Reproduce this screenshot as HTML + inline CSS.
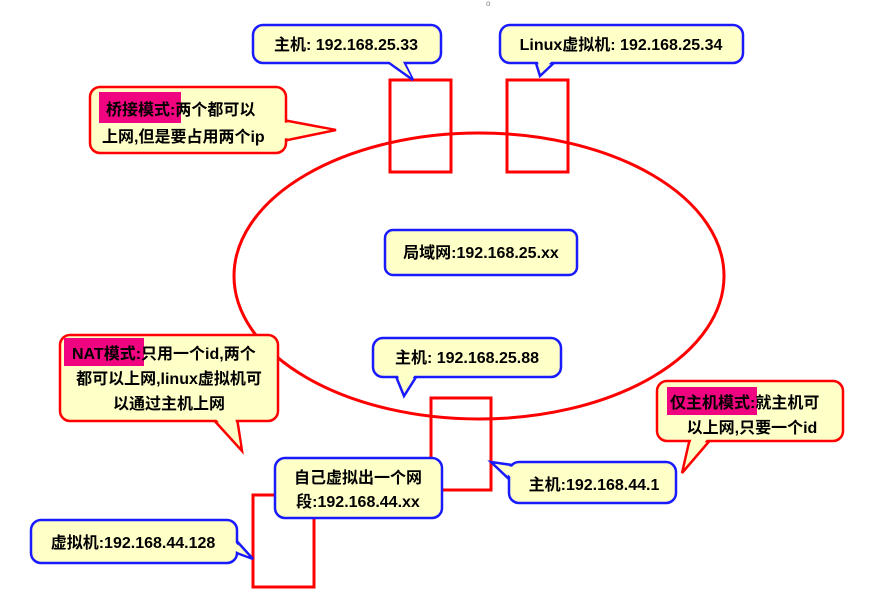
<!DOCTYPE html>
<html><head><meta charset="utf-8"><style>
html,body{margin:0;padding:0;background:#fff;}
svg{display:block;}
text{font-family:"Liberation Sans","Noto Sans CJK SC",sans-serif;font-size:16px;font-weight:bold;fill:#000;}
.b{stroke:#1a1aff;stroke-width:2.5;fill:#ffffc8;}
.r{stroke:#ff0000;stroke-width:2.5;fill:#ffffc8;}
.f{fill:#ffffc8;stroke:none;}
.bx{fill:none;stroke:#ff0000;stroke-width:3;}
.hl{fill:#f0047f;}
</style></head><body>
<svg width="869" height="595" viewBox="0 0 869 595">
<ellipse cx="479" cy="276" rx="245" ry="143" fill="none" stroke="#ff0000" stroke-width="3"/>
<rect class="bx" x="390" y="80" width="61" height="92"/>
<rect class="bx" x="507" y="80" width="61" height="92"/>
<rect class="bx" x="431" y="398" width="60" height="92"/>
<rect class="bx" x="253" y="495" width="61" height="92"/>

<polygon class="b" points="385,60 413,80 403,60"/>
<rect class="b" x="253" y="25" width="188" height="38" rx="10"/>
<polygon class="f" points="387,60 411,77 402,60"/>
<text x="346" y="50" text-anchor="middle">主机: 192.168.25.33</text>

<polygon class="b" points="535,60 540,76 557,60"/>
<rect class="b" x="500" y="25" width="243" height="38" rx="10"/>
<polygon class="f" points="537,59 541,72 554,59"/>
<text x="621" y="50" text-anchor="middle">Linux虚拟机: 192.168.25.34</text>

<polygon class="r" points="283,120 336,130 283,141"/>
<rect class="r" x="90" y="87" width="196" height="66" rx="10"/>
<polygon class="f" points="282,122 330,130 282,139"/>
<rect class="hl" x="99" y="92" width="82" height="31"/>
<text x="106" y="115">桥接模式:两个都可以</text>
<text x="102" y="142">上网,但是要占用两个ip</text>

<rect class="b" x="385" y="230" width="192" height="45" rx="8"/>
<text x="481" y="258" text-anchor="middle">局域网:192.168.25.xx</text>

<polygon class="r" points="212,418 242,451 237,418"/>
<rect class="r" x="60" y="335" width="218" height="86" rx="10"/>
<polygon class="f" points="214,417 240,445 235,417"/>
<rect class="hl" x="64" y="338" width="80" height="28"/>
<text x="72" y="359">NAT模式:只用一个id,两个</text>
<text x="169" y="384" text-anchor="middle">都可以上网,linux虚拟机可</text>
<text x="169" y="409" text-anchor="middle">以通过主机上网</text>

<polygon class="b" points="395,374 404,396 418,374"/>
<rect class="b" x="373" y="338" width="188" height="39" rx="10"/>
<polygon class="f" points="397,373 404,392 416,373"/>
<text x="467" y="363" text-anchor="middle">主机: 192.168.25.88</text>

<polygon class="r" points="690,438 682,473 712,438"/>
<rect class="r" x="657" y="381" width="186" height="60" rx="10"/>
<polygon class="f" points="692,437 685,466 709,437"/>
<rect class="hl" x="667" y="387" width="90" height="28"/>
<text x="670" y="408">仅主机模式:就主机可</text>
<text x="752" y="433" text-anchor="middle">以上网,只要一个id</text>

<polygon class="b" points="512,465 491,462 512,482"/>
<rect class="b" x="509" y="462" width="167" height="41" rx="10"/>
<polygon class="f" points="513,467 496,464 513,479"/>
<text x="594" y="490" text-anchor="middle">主机:192.168.44.1</text>

<rect class="b" x="275" y="458" width="167" height="60" rx="10"/>
<text x="358" y="483" text-anchor="middle">自己虚拟出一个网</text>
<text x="358" y="507" text-anchor="middle">段:192.168.44.xx</text>

<polygon class="b" points="234,538 253,559 234,552"/>
<rect class="b" x="31" y="520" width="206" height="43" rx="10"/>
<polygon class="f" points="233,540 248,556 233,550"/>
<text x="133" y="548" text-anchor="middle">虚拟机:192.168.44.128</text>

<text x="486" y="6" style="font-size:8px;font-weight:normal;fill:#888">o</text>
</svg>
</body></html>
